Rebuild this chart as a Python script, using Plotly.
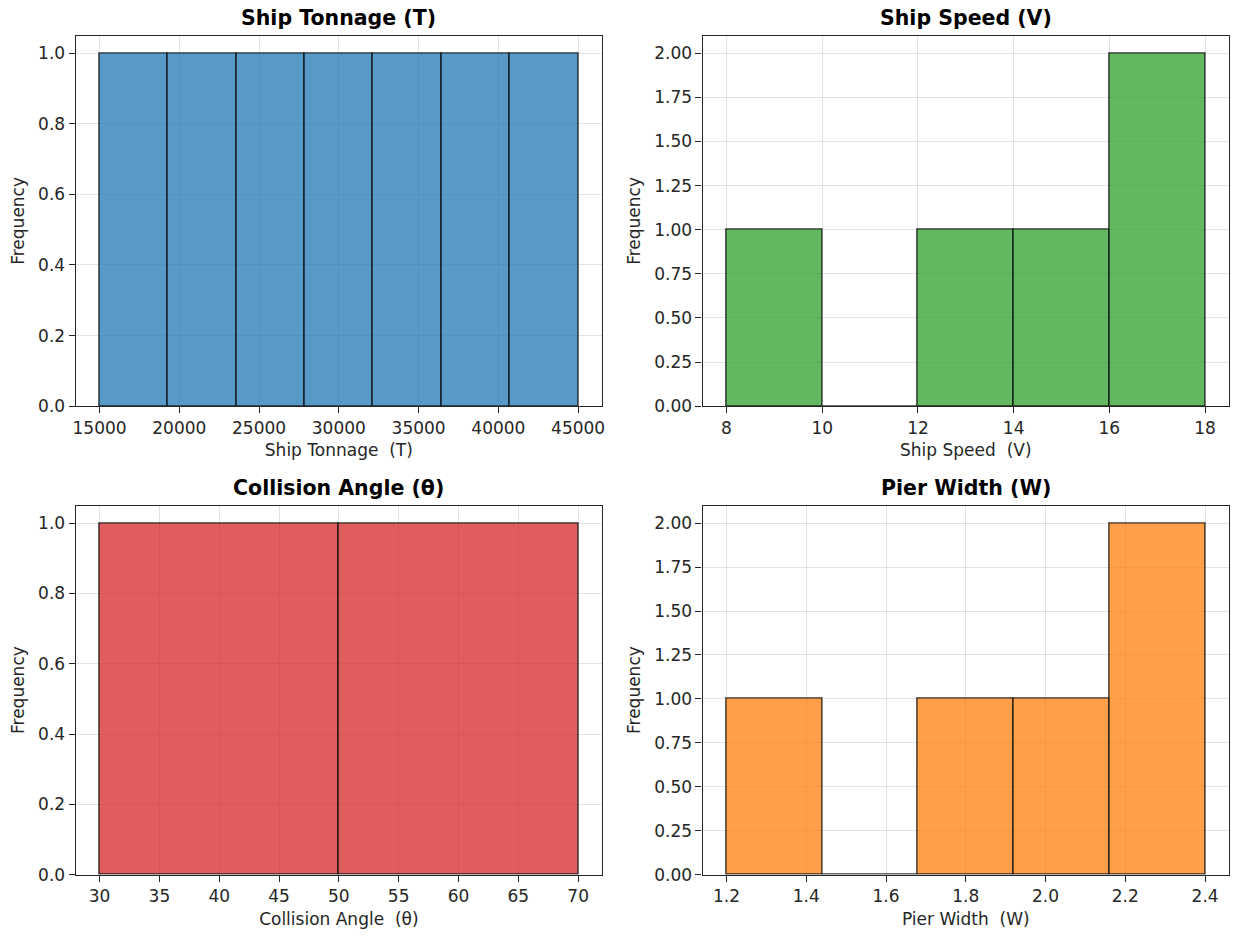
import plotly.graph_objects as go

# Histogram bin edges and counts for each ship-collision parameter
tonnage_edges = [15000, 19285.714, 23571.429, 27857.143, 32142.857, 36428.571, 40714.286, 45000]
tonnage_counts = [1, 1, 1, 1, 1, 1, 1]

speed_edges = [8, 10, 12, 14, 16, 18]
speed_counts = [1, 0, 1, 1, 2]

angle_edges = [30, 50, 70]
angle_counts = [1, 1]

width_edges = [1.2, 1.44, 1.68, 1.92, 2.16, 2.4]
width_counts = [1, 0, 1, 1, 2]

titles = ["Ship Tonnage (T)", "Ship Speed (V)", "Collision Angle (θ)", "Pier Width (W)"]
xlabels = ["Ship Tonnage\u00a0\u00a0(T)", "Ship Speed\u00a0\u00a0(V)",
           "Collision Angle\u00a0\u00a0(θ)", "Pier Width\u00a0\u00a0(W)"]
# fill colours (75% opaque) for each panel
colors = ["rgba(31,119,180,0.75)", "rgba(44,160,44,0.75)",
          "rgba(214,39,40,0.75)", "rgba(255,127,14,0.75)"]

panels = [
    (tonnage_edges, tonnage_counts, dict(dtick=5000, tickformat="d"), dict(dtick=0.2, tickformat=".1f")),
    (speed_edges, speed_counts, dict(dtick=2, tickformat="d"), dict(dtick=0.25, tickformat=".2f")),
    (angle_edges, angle_counts, dict(dtick=5, tickformat="d"), dict(dtick=0.2, tickformat=".1f")),
    (width_edges, width_counts, dict(dtick=0.2, tickformat=".1f"), dict(dtick=0.25, tickformat=".2f")),
]

W, H = 1233, 943
# axes boxes in pixels: (left, right, top, bottom)
boxes = [(73, 602, 36, 410.5), (703, 1232, 36, 410.5), (73, 602, 511, 884), (703, 1232, 511, 884)]

FONT = "DejaVu Sans"
TXT = "#262626"
fig = go.Figure()
annotations = []

for i, ((edges, counts, xt, yt), (l, r, t, b)) in enumerate(zip(panels, boxes)):
    n = i + 1
    xa = "x" if n == 1 else f"x{n}"
    ya = "y" if n == 1 else f"y{n}"
    centers = [(edges[k] + edges[k + 1]) / 2 for k in range(len(counts))]
    widths = [edges[k + 1] - edges[k] for k in range(len(counts))]
    fig.add_trace(go.Bar(
        x=centers, y=counts, width=widths,
        marker=dict(color=colors[i], line=dict(color="rgba(20,20,20,0.85)", width=1.4)),
        xaxis=xa, yaxis=ya, showlegend=False,
    ))

    span = edges[-1] - edges[0]
    xr = [edges[0] - 0.05 * span, edges[-1] + 0.05 * span]
    yr = [0, max(counts) * 1.05]

    axis_common = dict(
        showline=True, mirror=True, linecolor=TXT, linewidth=1.2,
        ticks="outside", ticklen=6, tickwidth=1.1, tickcolor=TXT,
        showgrid=True, gridcolor="rgba(176,176,176,0.35)", gridwidth=1,
        zeroline=False, tickfont=dict(family=FONT, size=17, color=TXT),
        tickmode="linear",
    )
    xkey = "xaxis" if n == 1 else f"xaxis{n}"
    ykey = "yaxis" if n == 1 else f"yaxis{n}"
    fig.update_layout(**{
        xkey: dict(axis_common, domain=[l / W, r / W], anchor=ya, range=xr,
                   tick0=edges[0], **xt,
                   title=dict(text=xlabels[i], font=dict(family=FONT, size=17, color=TXT),
                              standoff=7)),
        ykey: dict(axis_common, domain=[1 - b / H, 1 - t / H], anchor=xa, range=yr,
                   tick0=0, **yt,
                   title=dict(text="Frequency", font=dict(family=FONT, size=17, color=TXT),
                              standoff=9)),
    })
    annotations.append(dict(
        text=f"<b>{titles[i]}</b>", x=(l + r) / 2 / W, y=1 - (t - 4) / H,
        xref="paper", yref="paper", xanchor="center", yanchor="bottom", showarrow=False,
        font=dict(family=FONT, size=20.5, color="black"),
    ))

fig.update_layout(
    width=W, height=H, margin=dict(l=0, r=0, t=0, b=0),
    paper_bgcolor="white", plot_bgcolor="white",
    bargap=0, annotations=annotations,
)

fig.write_html("out.html")
